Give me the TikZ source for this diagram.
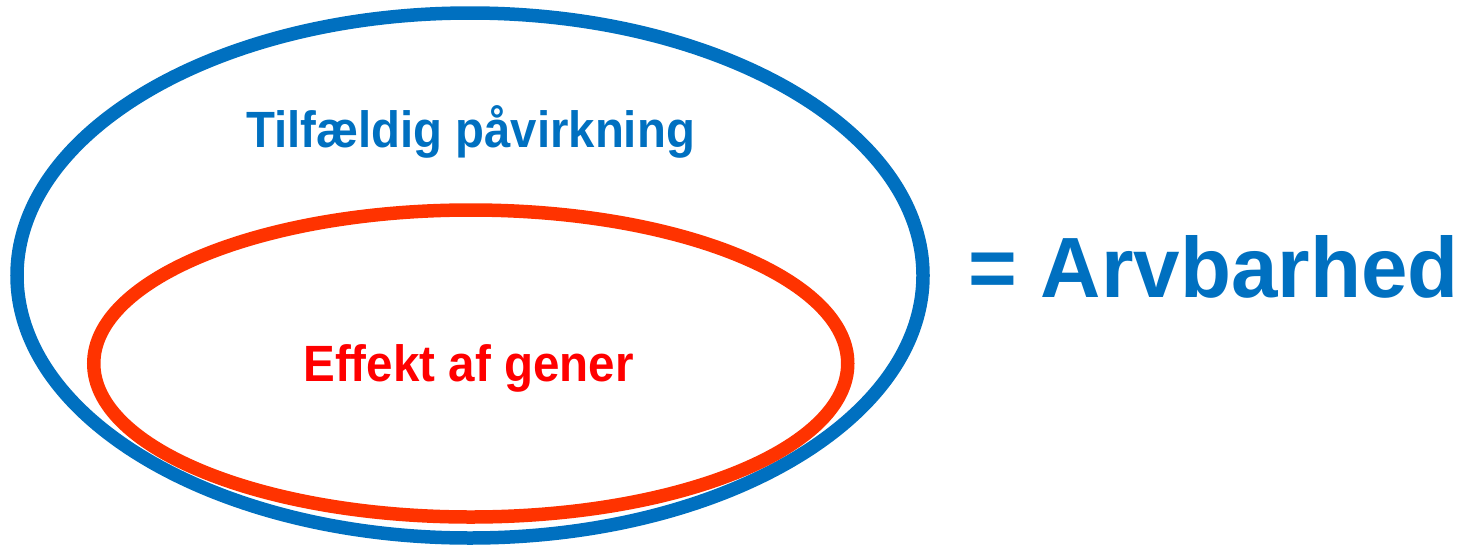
\documentclass[tikz,border=0pt]{standalone}
\usepackage{fontspec}
\setmainfont{Liberation Sans}
\definecolor{myblue}{HTML}{0070C0}
\definecolor{myred}{HTML}{FF3300}
\definecolor{txtred}{HTML}{FF0000}
\begin{document}
\begin{tikzpicture}[x=1pt,y=-1pt,
  ring/.style={line width=13.5pt},
  lbl/.style={inner sep=0pt,anchor=base,font=\bfseries\fontsize{51}{60}\selectfont}]
\useasboundingbox (0,0) rectangle (1475,547);
\draw[ring,myblue] (470,275.5) ellipse [x radius=453pt, y radius=262.5pt];
\draw[ring,myred] (470.75,363.5) ellipse [x radius=377pt, y radius=153.5pt];
\node[lbl,text=myblue] (tilf) at (470.5,147.3) {\scalebox{0.928}[1]{Tilfældig påvirkning}};
\node[lbl,text=txtred] (eff) at (468.5,381.7) {\scalebox{0.932}[1]{Effekt af gener}};
\node[lbl,text=myblue,font=\bfseries\fontsize{85.6}{100}\selectfont] (arv) at (1213.8,297.3) {\scalebox{0.976}[1]{= Arvbarhed}};
\end{tikzpicture}
\end{document}
